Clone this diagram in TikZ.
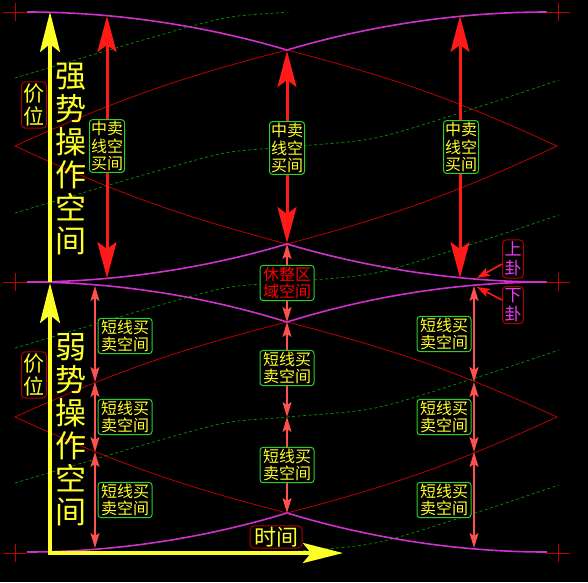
\documentclass[tikz,border=0pt]{standalone}
\usepackage{fontspec}
\newfontfamily\cjk{Noto Sans CJK SC}
\usetikzlibrary{arrows.meta}

\definecolor{purp}{RGB}{205,50,205}
\definecolor{tagpurp}{RGB}{235,60,235}
\definecolor{dkred}{RGB}{190,0,0}
\definecolor{dkgreen}{RGB}{0,150,0}
\definecolor{boxgreen}{RGB}{40,210,40}
\definecolor{tagred}{RGB}{175,0,0}
\definecolor{arrred}{RGB}{255,25,25}
\definecolor{thinred}{RGB}{255,80,80}
\definecolor{ylw}{RGB}{255,255,40}

\tikzset{
  ytip/.tip={Stealth[length=40pt,width=20pt,inset=8pt]},
  rtip/.tip={Stealth[length=36pt,width=19pt,inset=7pt]},
  stip/.tip={Stealth[length=15pt,width=9pt,inset=3pt]},
  ttip/.tip={Stealth[length=13pt,width=9pt,inset=3pt]},
  crossmark/.style={dkred, line width=0.8pt},
  mag/.style={purp, line width=1.6pt},
  redline/.style={dkred, line width=0.8pt},
  gdash/.style={dkgreen, line width=0.7pt, dash pattern=on 3pt off 2.5pt},
  yaxisarr/.style={ylw, line width=3.5pt},
  bigarr/.style={arrred, line width=3pt, rtip-rtip},
  smallarr/.style={thinred, line width=1.5pt, stip-stip},
  tagarr/.style={arrred, line width=1.6pt, -ttip},
  midbox/.style={draw=boxgreen, fill=black, line width=1pt, rounded corners=3pt,
    text=ylw, align=center, inner xsep=1.5pt, inner ysep=1.5pt,
    font=\cjk\fontsize{16}{17.5}\selectfont},
  shortbox/.style={midbox, inner xsep=3pt},
  tagbox/.style={draw=tagred, fill=black, line width=1pt, rounded corners=4pt,
    text=ylw, align=center, inner sep=2pt},
  bigtext/.style={text=ylw, align=center, inner sep=0pt,
    font=\cjk\fontsize{31}{33}\selectfont}
}

\begin{document}
\begin{tikzpicture}[x=1pt,y=-1pt]
  % Background
  \fill[black] (0,0) rectangle (588,582);
  \useasboundingbox (0,0) rectangle (588,582);

  % Crossing points
  \coordinate (X1) at (287,50);
  \coordinate (X2) at (287,244);
  \coordinate (X3) at (287,322);
  \coordinate (X4) at (287,513);
  \coordinate (L1) at (15,146);
  \coordinate (R1) at (557,146);
  \coordinate (L2) at (15,417);
  \coordinate (R2) at (557,417);

  % Green trend curves (dashed)
  \begin{scope}
    \clip (0,12) rectangle (588,553);
    \foreach \c in {12,147,282,417,552}
      \draw[gdash, shift={(0,\c)}] plot[smooth] coordinates
        {(15,66) (150,26) (225,6) (287,0) (375,-9) (469,-37) (559,-67)};
  \end{scope}

  % Red lenses
  \draw[redline] (X1) to[bend left=5] (R1) to[bend left=5] (X2)
    to[bend left=5] (L1) to[bend left=5] (X1);
  \draw[redline] (X3) to[bend left=5] (R2) to[bend left=5] (X4)
    to[bend left=5] (L2) to[bend left=5] (X3);

  % Magenta arcs
  \draw[mag] (27,12) parabola (X1);
  \draw[mag] (547,12) parabola (X1);
  \draw[mag] (27,282) parabola (X2);
  \draw[mag] (547,282) parabola (X2);
  \draw[mag] (27,282) parabola (X3);
  \draw[mag] (547,282) parabola (X3);
  \draw[mag] (27,552) parabola (X4);
  \draw[mag] (547,552) parabola (X4);

  % Corner marks
  \foreach \p in {(15,12),(15,282),(15,553),(558,12),(558,282),(558,553)}
    \draw[crossmark] \p ++(-12,0) -- ++(24,0) \p ++(0,-9) -- ++(0,18);

  % Strong part: middle-term arrows
  \coordinate (A1t) at (107,16);
  \coordinate (A1b) at (107,278);
  \coordinate (A2t) at (287,51);
  \coordinate (A2b) at (287,243);
  \coordinate (A3t) at (460,16);
  \coordinate (A3b) at (460,278);
  \draw[bigarr] (A1t) -- (A1b);
  \draw[bigarr] (A2t) -- (A2b);
  \draw[bigarr] (A3t) -- (A3b);
  \node[midbox] (mid1) at (107,146) {中卖\\线空\\买间};
  \node[midbox] (mid2) at (287,148) {中卖\\线空\\买间};
  \node[midbox] (mid3) at (461,147) {中卖\\线空\\买间};

  % Weak part: short-term arrows
  \coordinate (S1a) at (95,286);
  \coordinate (S1b) at (95,382);
  \coordinate (S1c) at (95,452);
  \coordinate (S1d) at (95,548);
  \coordinate (S3a) at (474,286);
  \coordinate (S3b) at (474,382);
  \coordinate (S3c) at (474,452);
  \coordinate (S3d) at (474,548);
  \coordinate (S2a) at (287,417);
  \draw[smallarr] (S1a) -- (S1b);
  \draw[smallarr] (S1b) -- (S1c);
  \draw[smallarr] (S1c) -- (S1d);
  \draw[smallarr] (S3a) -- (S3b);
  \draw[smallarr] (S3b) -- (S3c);
  \draw[smallarr] (S3c) -- (S3d);
  \draw[smallarr] (X2) -- (X3);
  \draw[smallarr] (X3) -- (S2a);
  \draw[smallarr] (S2a) -- (X4);

  \node[shortbox] (sl1) at (125,336) {短线买\\卖空间};
  \node[shortbox] (sl2) at (125,417) {短线买\\卖空间};
  \node[shortbox] (sl3) at (125,500) {短线买\\卖空间};
  \node[shortbox] (sr1) at (444,334) {短线买\\卖空间};
  \node[shortbox] (sr2) at (444,417) {短线买\\卖空间};
  \node[shortbox] (sr3) at (444,500) {短线买\\卖空间};
  \node[shortbox] (sm1) at (287,368) {短线买\\卖空间};
  \node[shortbox] (sm2) at (287,465) {短线买\\卖空间};
  \node[shortbox, text=red] (rest) at (287,283) {休整区\\域空间};

  % Upper / lower trigram tags
  \coordinate (Up) at (477,278);
  \coordinate (Dn) at (477,287);
  \node[tagbox, text=tagpurp, font=\cjk\fontsize{17}{19}\selectfont] (sg) at (513,259) {上\\卦};
  \node[tagbox, text=tagpurp, font=\cjk\fontsize{17}{19}\selectfont] (xg) at (513,305) {下\\卦};
  \draw[tagarr] ([yshift=-5pt]sg.west) -- (Up);
  \draw[tagarr] ([yshift=5pt]xg.west) -- (Dn);

  % Axes
  \draw[yaxisarr, -ytip] (50,282) -- (50,12);
  \draw[yaxisarr, ytip-ytip] (50,283) -- (50,553) -- (343,553);

  % Axis labels
  \node[tagbox, font=\cjk\fontsize{21}{23}\selectfont] (pr1) at (34,105) {价\\位};
  \node[tagbox, font=\cjk\fontsize{21}{23}\selectfont] (pr2) at (34,375) {价\\位};
  \node[tagbox, inner xsep=4pt, inner ysep=1pt, font=\cjk\fontsize{22}{24}\selectfont] (tm) at (276,537) {时间};
  \node[bigtext] (strong) at (71,159) {强\\势\\操\\作\\空\\间};
  \node[bigtext] (weak) at (71,430) {弱\\势\\操\\作\\空\\间};
\end{tikzpicture}
\end{document}
